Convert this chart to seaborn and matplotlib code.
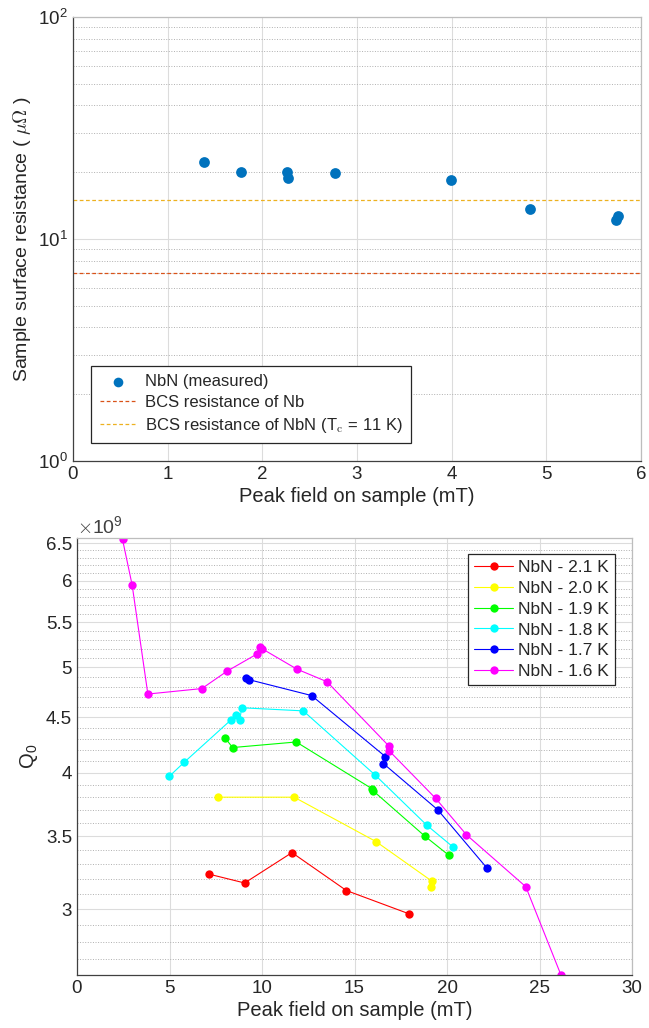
import numpy as np
import pandas as pd
import matplotlib
matplotlib.use("Agg")
import matplotlib.pyplot as plt
from matplotlib.ticker import FixedLocator, FuncFormatter, NullFormatter, LogLocator
import seaborn as sns

# dati pannello superiore: resistenza superficiale misurata
field_top = [1.38, 1.77, 2.26, 2.27, 2.77, 3.99, 4.83, 5.76, 5.74]
rs_measured = [22.3, 20.1, 20.0, 18.8, 19.9, 18.5, 13.7, 12.7, 12.2]
rs_bcs_nb = 7.0
rs_bcs_nbn = 15.0

# dati pannello inferiore: Q0 in funzione del campo di picco (valori in unita' di 1e9)
field_21 = [7.13, 9.06, 11.62, 14.56, 17.95]
q0_21 = [3.23, 3.17, 3.38, 3.12, 2.97]
field_20 = [7.60, 11.74, 16.16, 19.21, 19.12]
q0_20 = [3.80, 3.80, 3.46, 3.18, 3.14]
field_19 = [7.99, 8.41, 11.85, 15.93, 16.02, 18.80, 20.11]
q0_19 = [4.31, 4.22, 4.27, 3.87, 3.85, 3.50, 3.36]
field_18 = [4.98, 5.79, 8.30, 8.62, 8.80, 8.90, 12.23, 16.13, 18.92, 20.33]
q0_18 = [3.97, 4.09, 4.47, 4.52, 4.47, 4.59, 4.56, 3.98, 3.58, 3.42]
field_17 = [9.11, 9.31, 12.68, 16.67, 16.56, 19.50, 22.17]
q0_17 = [4.89, 4.87, 4.71, 4.14, 4.08, 3.70, 3.27]
field_16 = [2.46, 2.98, 3.83, 6.75, 8.12, 9.71, 9.89, 10.0, 11.89, 13.51,
            16.88, 16.88, 19.39, 21.05, 24.26, 26.16]
q0_16 = [6.55, 5.95, 4.725, 4.78, 4.96, 5.14, 5.22, 5.20, 4.98, 4.85,
         4.23, 4.19, 3.79, 3.51, 3.145, 2.61]

series_labels = ["NbN - 2.1 K", "NbN - 2.0 K", "NbN - 1.9 K",
                 "NbN - 1.8 K", "NbN - 1.7 K", "NbN - 1.6 K"]
series_fields = [field_21, field_20, field_19, field_18, field_17, field_16]
series_q0 = [q0_21, q0_20, q0_19, q0_18, q0_17, q0_16]
series_colors = ["#ff0000", "#ffff00", "#00ff00", "#00ffff", "#0000ff", "#ff00ff"]

sns.set_style("white")
plt.rcParams["font.family"] = ["Liberation Sans", "DejaVu Sans"]
plt.rcParams["mathtext.fontset"] = "cm"
plt.rcParams["font.size"] = 13


def style_axes(ax):
    # stile simile a MATLAB: griglia chiara, tick verso l'interno
    ax.grid(True, which="major", color="#dcdcdc", linestyle="-", linewidth=0.8)
    ax.grid(True, which="minor", axis="y", color="#b0b0b0", linestyle=":", linewidth=0.7)
    ax.set_axisbelow(True)
    for side in ["left", "bottom"]:
        ax.spines[side].set_color("#404040")
        ax.spines[side].set_linewidth(0.9)
    for side in ["top", "right"]:
        ax.spines[side].set_color("#bdbdbd")
        ax.spines[side].set_linewidth(0.9)
    ax.tick_params(which="both", direction="in", colors="#262626", labelsize=13.5,
                   top=False, right=False)
    ax.tick_params(which="major", length=5)
    ax.tick_params(which="minor", length=3)


fig = plt.figure(figsize=(6.49, 10.28), dpi=100)

# pannello superiore
ax1 = fig.add_axes([73 / 649, 1 - 461 / 1028, 568 / 649, 444 / 1028])
df_top = pd.DataFrame({"field": field_top, "rs": rs_measured})
sns.scatterplot(data=df_top, x="field", y="rs", ax=ax1, color="#0072BD", s=60,
                edgecolor="#0072BD", linewidth=0, label="NbN (measured)", zorder=3)
ax1.axhline(rs_bcs_nb, color="#D95319", linestyle="--", linewidth=0.9,
            dashes=(3, 2), label="BCS resistance of Nb")
ax1.axhline(rs_bcs_nbn, color="#EDB120", linestyle="--", linewidth=0.9,
            dashes=(3, 2), label="BCS resistance of NbN (T$_\\mathrm{c}$ = 11 K)")
ax1.set_yscale("log")
ax1.set_xlim(0, 6)
ax1.set_ylim(1, 100)
ax1.yaxis.set_minor_locator(LogLocator(base=10, subs=np.arange(2, 10)))
ax1.yaxis.set_minor_formatter(NullFormatter())
ax1.set_xlabel("Peak field on sample (mT)", fontsize=14.5, color="#262626", labelpad=3)
ax1.set_ylabel(r"Sample surface resistance ( $\mu\Omega$ )", fontsize=14, color="#262626")
style_axes(ax1)
leg1 = ax1.legend(loc="lower left", bbox_to_anchor=(0.032, 0.04), borderaxespad=0,
                  fancybox=False, framealpha=1, edgecolor="#262626", fontsize=12,
                  handlelength=2.2, handletextpad=0.5, labelspacing=0.35,
                  borderpad=0.5, markerscale=0.9)
leg1.get_frame().set_linewidth(0.9)

# pannello inferiore
ax2 = fig.add_axes([77 / 649, 1 - 975 / 1028, 555 / 649, 437 / 1028])
for lab, xs, qs, col in zip(series_labels, series_fields, series_q0, series_colors):
    sns.lineplot(x=xs, y=np.array(qs) * 1e9, ax=ax2, color=col, marker="o",
                 markersize=6, markeredgewidth=0, linewidth=0.8, sort=False,
                 estimator=None, label=lab)
ax2.set_yscale("log")
ax2.set_xlim(0, 30)
ax2.set_ylim(2.61e9, 6.57e9)
major_q = [3.0, 3.5, 4.0, 4.5, 5.0, 5.5, 6.0, 6.5]
minor_q = [v / 10 for v in range(27, 66) if v % 5 != 0]
ax2.yaxis.set_major_locator(FixedLocator([v * 1e9 for v in major_q]))
ax2.yaxis.set_minor_locator(FixedLocator([v * 1e9 for v in minor_q]))
ax2.yaxis.set_major_formatter(FuncFormatter(lambda v, p: f"{v / 1e9:g}"))
ax2.yaxis.set_minor_formatter(NullFormatter())
ax2.set_xticks([0, 5, 10, 15, 20, 25, 30])
ax2.set_xlabel("Peak field on sample (mT)", fontsize=14.5, color="#262626", labelpad=3)
ax2.set_ylabel(r"Q$_\mathregular{0}$", fontsize=14.5, color="#262626")
ax2.text(0.0, 1.002, r"$\times\mathregular{10^{9}}$", transform=ax2.transAxes, ha="left",
         va="bottom", fontsize=14, color="#404040")
style_axes(ax2)
leg2 = ax2.legend(loc="upper right", bbox_to_anchor=(0.969, 0.963), borderaxespad=0,
                  fancybox=False, framealpha=1, edgecolor="#262626", fontsize=12.5,
                  handlelength=2.2, handletextpad=0.3, labelspacing=0.32, borderpad=0.35)
leg2.get_frame().set_linewidth(0.9)

fig.savefig("out.png", dpi=100)
